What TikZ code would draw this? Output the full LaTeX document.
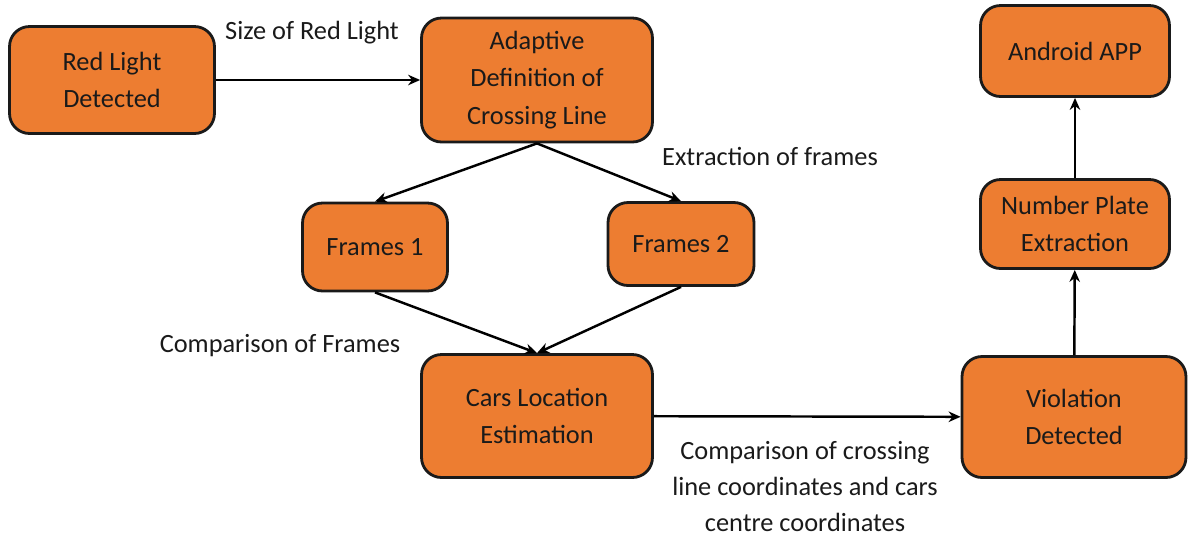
\documentclass[tikz,border=0pt]{standalone}
\usepackage{fontspec}
\setmainfont{Carlito}
\usepackage{xcolor}
\usetikzlibrary{arrows.meta}
\definecolor{vorange}{HTML}{ED7D31}
\definecolor{vdarkgray}{HTML}{1a1a1a}

\begin{document}
\begin{tikzpicture}[x=0.02cm, y=-0.02cm,
		box/.style={draw=vdarkgray, fill=vorange, line width=1.6pt, rounded corners=0.4cm, align=center, font=\fontsize{15}{21.2}\selectfont, text=vdarkgray, inner sep=0pt},
		lbl/.style={align=center, font=\fontsize{15}{20.5}\selectfont, text=vdarkgray, inner sep=0pt},
		arr/.style={-{Stealth[length=2.4mm, width=2.1mm]}, color=black, line width=1.4pt}]
		\useasboundingbox (0,0) rectangle (1188,542);
		\node[box, minimum width=4.1cm, minimum height=2.14cm] (red) at (112,80) {Red Light\\Detected};
		\node[box, minimum width=4.62cm, minimum height=2.48cm] (adapt) at (537,80) {Adaptive\\Definition of\\Crossing Line};
		\node[box, minimum width=2.9cm, minimum height=1.76cm] (f1) at (375,247) {Frames 1};
		\node[box, minimum width=2.92cm, minimum height=1.66cm] (f2) at (681,244) {Frames 2};
		\node[box, minimum width=4.62cm, minimum height=2.46cm] (cars) at (537,416) {Cars Location\\Estimation};
		\node[box, minimum width=4.48cm, minimum height=2.42cm] (viol) at (1074,417) {Violation\\Detected};
		\node[box, minimum width=3.78cm, minimum height=1.78cm] (plate) at (1075,224) {Number Plate\\Extraction};
		\node[box, minimum width=3.78cm, minimum height=1.82cm] (app) at (1075,51) {Android APP};
		\node[lbl] (lsize) at (312,33) {Size of Red Light};
		\node[lbl] (lextr) at (770,156) {Extraction of frames};
		\node[lbl] (lcomp) at (280,346) {Comparison of Frames};
		\node[lbl] (lcross) at (805,487) {Comparison of crossing\\line coordinates and cars\\centre coordinates};
		\draw[arr] (red) -- (adapt);
		\draw[arr] (adapt.south) -- (f1.north);
		\draw[arr] (adapt.south) -- (f2.north);
		\draw[arr] (f1.south) -- (cars.north);
		\draw[arr] (f2.south) -- (cars.north);
		\draw[arr] (cars) -- (viol);
		\draw[arr] (viol) -- (plate);
		\draw[arr] (plate) -- (app);
	\end{tikzpicture}
\end{document}
